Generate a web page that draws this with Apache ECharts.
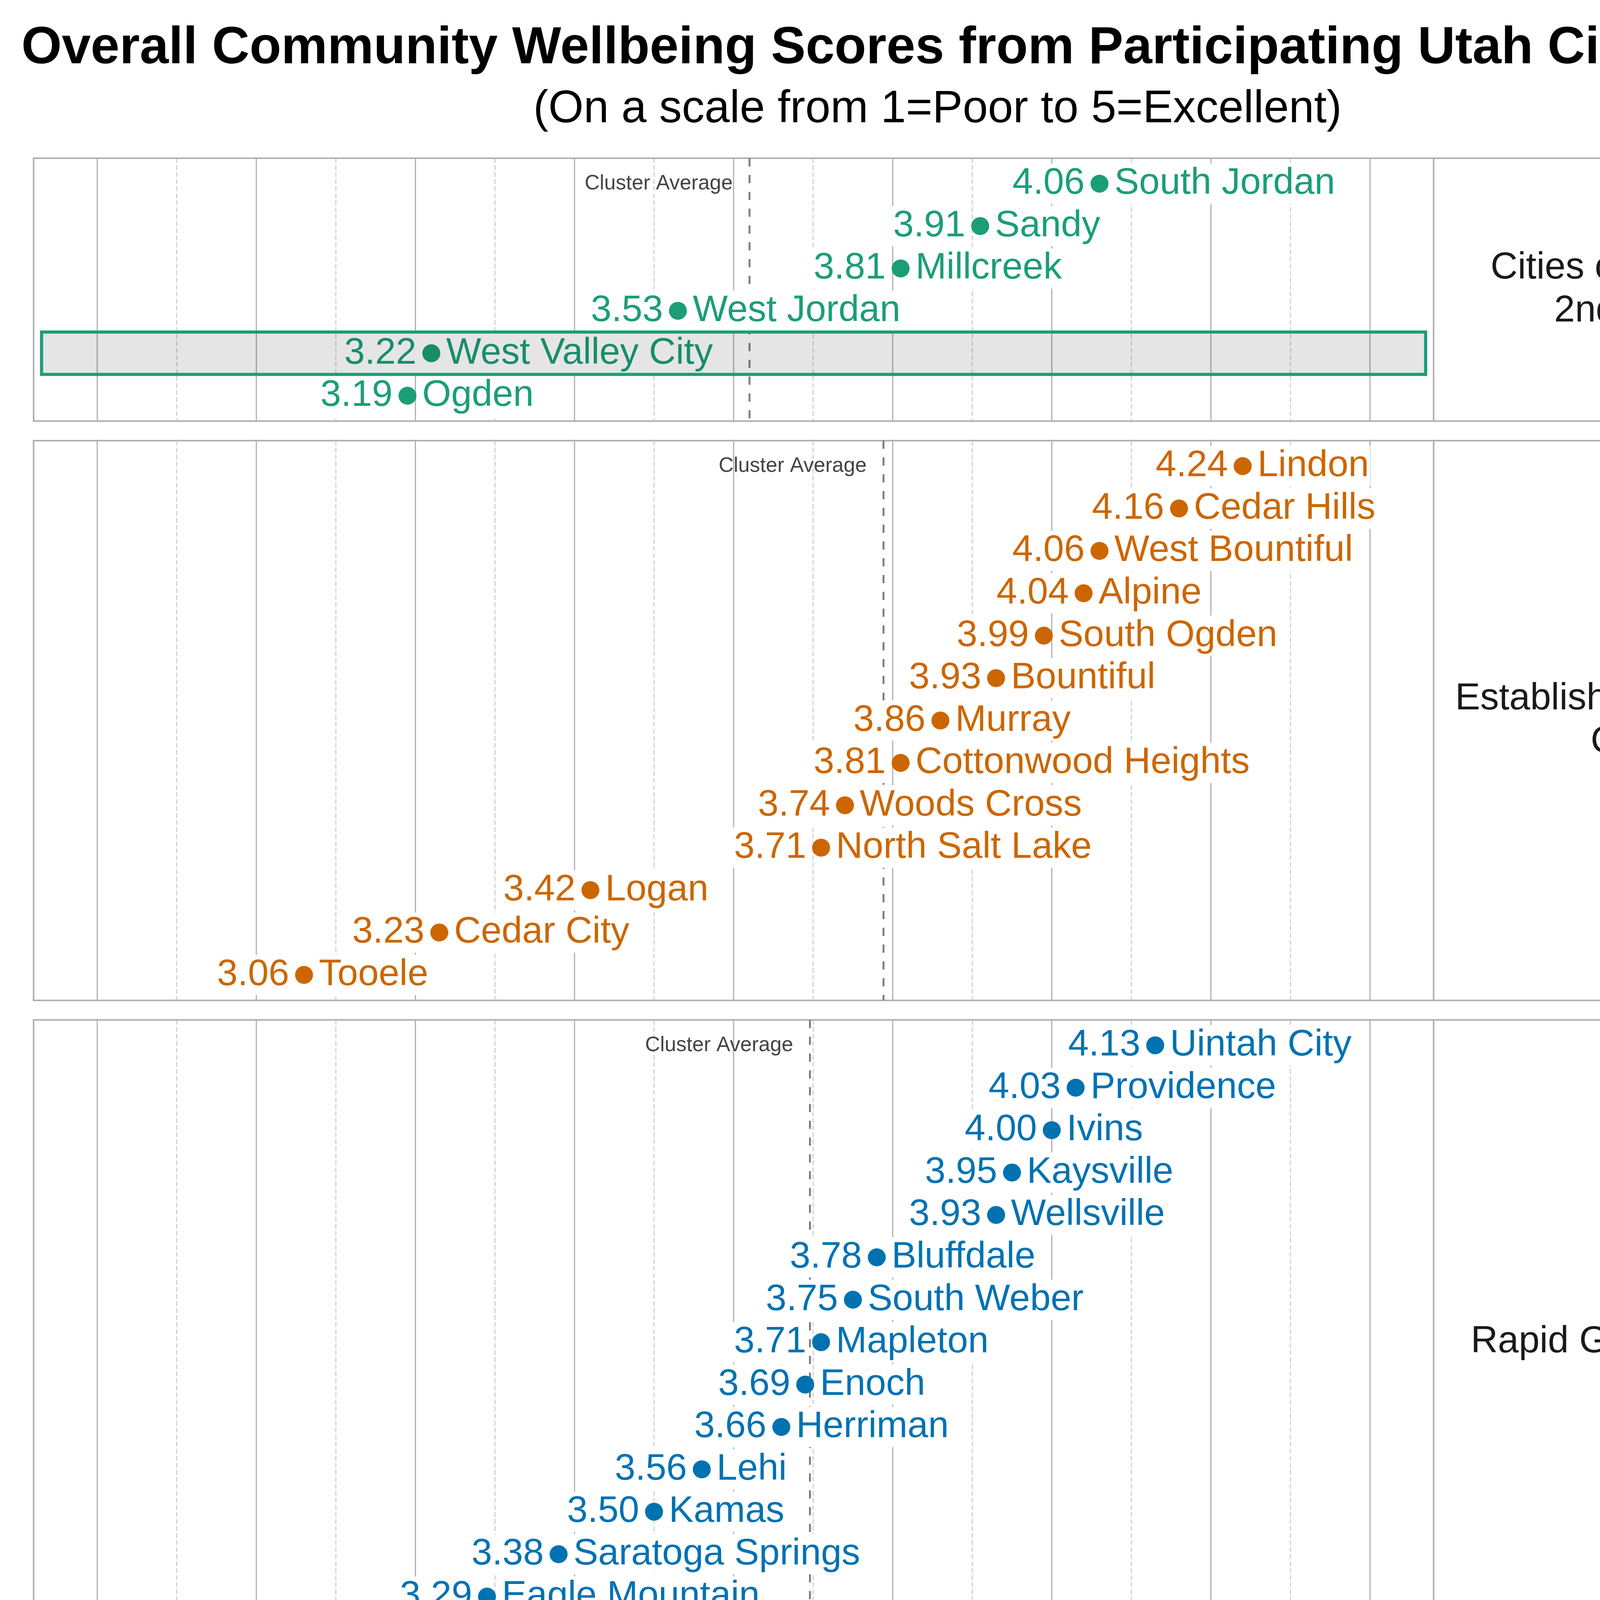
<!DOCTYPE html>
<html><head><meta charset="utf-8">
<script src="https://cdn.jsdelivr.net/npm/echarts@6/dist/echarts.min.js"></script>
<style>html,body{margin:0;padding:0;background:#fff}#c{width:4800px;height:7200px}</style>
</head><body><div id="c"></div>
<script>
// ---------------- data ----------------
const clusterNames = ['Cities of the 1st &\n2nd Class', 'Established/Mid-sized\nCities', 'Rapid Growth Cities', 'Rural Hub/Resort\nCommunities', 'Traditional Rural\nCommunities'];
const clusterColors = ['#1b9e77', '#cc6600', '#0072b2', '#b2182b', '#6a3d9a'];

const c1Cities = ['South Jordan', 'Sandy', 'Millcreek', 'West Jordan', 'West Valley City', 'Ogden'];
const c1Scores = [4.06, 3.91, 3.81, 3.53, 3.22, 3.19];

const c2Cities = ['Lindon', 'Cedar Hills', 'West Bountiful', 'Alpine', 'South Ogden', 'Bountiful', 'Murray', 'Cottonwood Heights', 'Woods Cross', 'North Salt Lake', 'Logan', 'Cedar City', 'Tooele'];
const c2Scores = [4.24, 4.16, 4.06, 4.04, 3.99, 3.93, 3.86, 3.81, 3.74, 3.71, 3.42, 3.23, 3.06];

const c3Cities = ['Uintah City', 'Providence', 'Ivins', 'Kaysville', 'Wellsville', 'Bluffdale', 'South Weber', 'Mapleton', 'Enoch', 'Herriman', 'Lehi', 'Kamas', 'Saratoga Springs', 'Eagle Mountain', 'Grantsville'];
const c3Scores = [4.13, 4.03, 4.00, 3.95, 3.93, 3.78, 3.75, 3.71, 3.69, 3.66, 3.56, 3.50, 3.38, 3.29, 3.08];

const c4Cities = ['Midway', 'Alta', 'Morgan', 'Bluff', 'Springdale', 'Richfield', 'Heber', 'Nephi', 'Manila', 'Blanding', 'Vernal', 'Moab', 'Tremonton', 'Wendover'];
const c4Scores = [4.24, 4.15, 3.89, 3.80, 3.71, 3.57, 3.51, 3.51, 3.51, 3.33, 3.21, 3.12, 2.94, 2.92];

const c5Cities = ['Mayfield', 'Lewiston', 'Toquerville', 'Ferron', 'Orangeville', 'Lake Point', 'La Verkin', 'Delta', 'Stockton'];
const c5Scores = [4.08, 3.99, 3.83, 3.76, 3.72, 3.62, 3.57, 3.35, 3.30];

const majorTicks = [2.8, 3.0, 3.2, 3.4, 3.6, 3.8, 4.0, 4.2, 4.4];
const minorTicks = [2.9, 3.1, 3.3, 3.5, 3.7, 3.9, 4.1, 4.3];
const highlightCity = 'West Valley City';
const xMin = 2.72, xMax = 4.48;

const titleText = 'Overall Community Wellbeing Scores from Participating Utah Cities (2026)';
const subtitleText = '(On a scale from 1=Poor to 5=Excellent)';
const xAxisTitle = 'Average Score';
const avgLabelText = 'Cluster Average';

// ---------------- build ----------------
const clusters = [
  { name: clusterNames[0], cities: c1Cities, scores: c1Scores },
  { name: clusterNames[1], cities: c2Cities, scores: c2Scores },
  { name: clusterNames[2], cities: c3Cities, scores: c3Scores },
  { name: clusterNames[3], cities: c4Cities, scores: c4Scores },
  { name: clusterNames[4], cities: c5Cities, scores: c5Scores }
];

const FONT = "'Liberation Sans', Arial, Helvetica, sans-serif";
const plotLeft = 86, plotRight = 3670, stripRight = 4714;
const plotTop = 405, plotBottom = 6901, gap = 50;
const totalRows = clusters.reduce((s, c) => s + c.cities.length + 0.2, 0);
const unit = (plotBottom - plotTop - gap * (clusters.length - 1)) / totalRows;
const SYM = 46, LABEL_GAP = 12;

const grids = [], xAxes = [], yAxes = [], series = [], graphics = [];
let cursor = plotTop;
const last = clusters.length - 1;

clusters.forEach((c, i) => {
  const n = c.cities.length;
  const h = (n + 0.2) * unit;
  const color = clusterColors[i];
  const avg = c.scores.reduce((a, b) => a + b, 0) / n;

  grids.push({ left: plotLeft, top: cursor, width: plotRight - plotLeft, height: h,
    show: true, borderColor: '#b0b0b0', borderWidth: 4, backgroundColor: 'transparent', containLabel: false });

  xAxes.push({
    type: 'value', gridIndex: i, min: xMin, max: xMax,
    axisLine: { show: false }, axisTick: { show: false }, splitLine: { show: false },
    axisLabel: i === last ? {
      show: true, customValues: majorTicks, formatter: v => Number(v).toFixed(1),
      fontSize: 75, color: '#000', fontFamily: FONT, margin: 12
    } : { show: false },
    name: i === last ? xAxisTitle : '',
    nameLocation: 'middle', nameGap: 129,
    nameTextStyle: { fontSize: 76, color: '#000', fontFamily: FONT }
  });
  yAxes.push({ type: 'value', gridIndex: i, min: -0.6, max: n - 0.4, inverse: true, show: false });

  const vline = (stroke, width, dash) => (params, api) => {
    const x = api.coord([api.value(0), 0])[0];
    const cs = params.coordSys;
    return { type: 'line', shape: { x1: x, y1: cs.y, x2: x, y2: cs.y + cs.height },
      style: { stroke: stroke, lineWidth: width, lineDash: dash } };
  };

  series.push({ type: 'custom', xAxisIndex: i, yAxisIndex: i, z: 1, silent: true,
    data: majorTicks.map(v => [v, 0]), renderItem: vline('#b0b0b0', 3, null) });
  series.push({ type: 'custom', xAxisIndex: i, yAxisIndex: i, z: 1, silent: true,
    data: minorTicks.map(v => [v, 0]), renderItem: vline('#bdbdbd', 2, [12, 6]) });
  series.push({ type: 'custom', xAxisIndex: i, yAxisIndex: i, z: 2, silent: true,
    data: [[avg, 0]], renderItem: vline('#808080', 5, [21, 22]) });

  // "Cluster Average" caption, right-aligned just left of the average line, on the first row
  series.push({ type: 'custom', xAxisIndex: i, yAxisIndex: i, z: 2, silent: true,
    data: [[avg, 0]],
    renderItem: (params, api) => {
      const p = api.coord([api.value(0), api.value(1)]);
      return { type: 'text', x: p[0] - 43, y: p[1],
        style: { text: avgLabelText, fill: '#444', fontSize: 53, fontFamily: FONT,
          align: 'right', verticalAlign: 'middle', textAlign: 'right', textVerticalAlign: 'middle' } };
    } });

  // value labels (left of points)
  series.push({ type: 'custom', xAxisIndex: i, yAxisIndex: i, z: 3, silent: true,
    data: c.scores.map((s, j) => [s, j]),
    renderItem: (params, api) => {
      const v = api.value(0);
      const p = api.coord([v, api.value(1)]);
      return { type: 'text', x: p[0] - SYM / 2 - LABEL_GAP, y: p[1],
        style: { text: v.toFixed(2), fill: color, fontSize: 95, fontFamily: FONT,
          align: 'right', verticalAlign: 'middle', textAlign: 'right', textVerticalAlign: 'middle',
          backgroundColor: '#fff', padding: [4, 3] } };
    } });

  // points with name labels
  series.push({ type: 'scatter', xAxisIndex: i, yAxisIndex: i, z: 4, silent: true,
    data: c.scores.map((s, j) => ({ value: [s, j], name: c.cities[j] })),
    symbol: 'circle', symbolSize: SYM, itemStyle: { color: color, opacity: 1 },
    label: { show: true, position: 'right', distance: LABEL_GAP, formatter: '{b}',
      fontSize: 95, color: color, fontFamily: FONT, backgroundColor: '#fff', padding: [4, 3] } });

  const hi = c.cities.indexOf(highlightCity);
  if (hi >= 0) {
    series.push({ type: 'custom', xAxisIndex: i, yAxisIndex: i, z: 10, silent: true,
      data: [[hi, 0]],
      renderItem: (params, api) => {
        const idx = api.value(0);
        const p1 = api.coord([xMin + 0.01, idx - 0.5]);
        const p2 = api.coord([xMax - 0.01, idx + 0.5]);
        return { type: 'rect',
          shape: { x: Math.min(p1[0], p2[0]), y: Math.min(p1[1], p2[1]),
                   width: Math.abs(p2[0] - p1[0]), height: Math.abs(p2[1] - p1[1]) },
          style: { fill: 'rgba(0,0,0,0.1)', stroke: color, lineWidth: 8 } };
      } });
  }

  graphics.push({ type: 'rect', z: 0,
    shape: { x: plotRight, y: cursor, width: stripRight - plotRight, height: h },
    style: { fill: 'transparent', stroke: '#b0b0b0', lineWidth: 4 } });
  graphics.push({ type: 'text', z: 1, x: (plotRight + stripRight) / 2, y: cursor + h / 2,
    style: { text: c.name, fontSize: 96, lineHeight: 110, fontFamily: FONT, fill: '#1a1a1a',
      textAlign: 'center', textVerticalAlign: 'middle' } });

  cursor += h + gap;
});

graphics.push({ type: 'text', x: 2400, y: 125,
  style: { text: titleText, fontSize: 133, fontWeight: 'bold', fontFamily: FONT, fill: '#000',
    textAlign: 'center', textVerticalAlign: 'middle' } });
graphics.push({ type: 'text', x: 2400, y: 281,
  style: { text: subtitleText, fontSize: 116, fontFamily: FONT, fill: '#000',
    textAlign: 'center', textVerticalAlign: 'middle' } });

const chart = echarts.init(document.getElementById('c'), null, { renderer: 'canvas', width: 4800, height: 7200 });
chart.setOption({
  animation: false,
  backgroundColor: '#fff',
  grid: grids, xAxis: xAxes, yAxis: yAxes, series: series, graphic: graphics
});
</script>
</body></html>
